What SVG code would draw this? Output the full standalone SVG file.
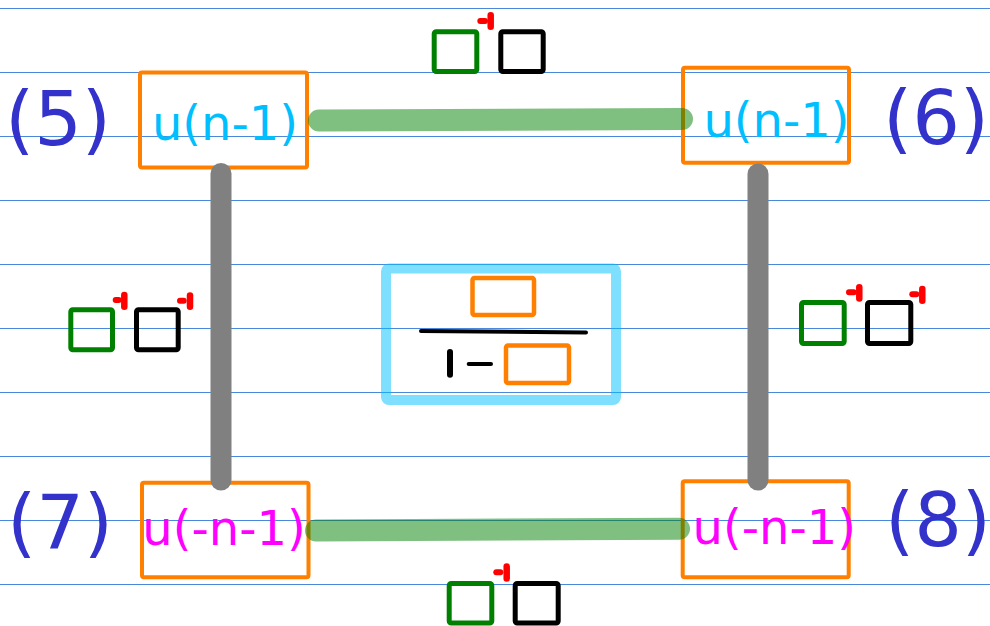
<svg xmlns="http://www.w3.org/2000/svg" width="990" height="626" viewBox="0 0 990 626">
<style>
.rule{stroke:#4a88dc;stroke-width:1.2}
.box{fill:none;stroke:#ff8000;stroke-width:4}
.t{font-family:"DejaVu Sans",sans-serif;font-size:48px;text-anchor:middle}
.cy{fill:#00bfff}
.mg{fill:#ff00ff}
.lbl{font-family:"DejaVu Sans",sans-serif;font-size:75px;text-anchor:middle;fill:#3333cc}
.gq{fill:none;stroke:#008000;stroke-width:5}
.bq{fill:none;stroke:#000;stroke-width:5}
.rd{stroke:#ff0000;stroke-linecap:round;fill:none}
.green{stroke:#008000;stroke-opacity:0.5;stroke-width:22;stroke-linecap:round}
.gray{stroke:#808080;stroke-width:21;stroke-linecap:round}
</style>
<rect width="990" height="626" fill="#fff"/>
<g id="rules">
<line class="rule" x1="0" y1="8.5" x2="990" y2="8.5"/>
<line class="rule" x1="0" y1="72.5" x2="990" y2="72.5"/>
<line class="rule" x1="0" y1="136.5" x2="990" y2="136.5"/>
<line class="rule" x1="0" y1="200.5" x2="990" y2="200.5"/>
<line class="rule" x1="0" y1="264.5" x2="990" y2="264.5"/>
<line class="rule" x1="0" y1="328.5" x2="990" y2="328.5"/>
<line class="rule" x1="0" y1="392.5" x2="990" y2="392.5"/>
<line class="rule" x1="0" y1="456.5" x2="990" y2="456.5"/>
<line class="rule" x1="0" y1="520.5" x2="990" y2="520.5"/>
<line class="rule" x1="0" y1="584.5" x2="990" y2="584.5"/>
</g>
<g id="node5">
<rect class="box" x="140" y="72.5" width="167" height="95" rx="2"/>
<text class="t cy" x="225" y="140">u(n-1)</text>
<text class="lbl" x="58" y="145">(5)</text>
</g>
<g id="node6">
<rect class="box" x="683" y="67.7" width="166" height="95" rx="2"/>
<text class="t cy" x="776.5" y="137">u(n-1)</text>
<text class="lbl" x="936" y="144">(6)</text>
</g>
<g id="node7">
<rect class="box" x="142" y="482.7" width="166.5" height="94.5" rx="2"/>
<text class="t mg" x="224" y="545">u(-n-1)</text>
<text class="lbl" x="60" y="548">(7)</text>
</g>
<g id="node8">
<rect class="box" x="682.7" y="481.3" width="166" height="96" rx="2"/>
<text class="t mg" x="774.3" y="544">u(-n-1)</text>
<text class="lbl" x="938" y="546">(8)</text>
</g>
<g id="formula">
<rect x="386" y="268.5" width="230" height="131.5" rx="3" fill="none" stroke="#00bfff" stroke-opacity="0.5" stroke-width="10"/>
<rect x="472.5" y="278" width="61.5" height="37" rx="2" fill="none" stroke="#ff8000" stroke-width="4.5"/>
<line x1="421" y1="331" x2="586" y2="332.5" stroke="#000" stroke-width="4" stroke-linecap="round"/>
<line x1="450" y1="352" x2="450" y2="374.7" stroke="#000" stroke-width="6" stroke-linecap="round"/>
<line x1="468.7" y1="364" x2="491" y2="364" stroke="#000" stroke-width="4" stroke-linecap="round"/>
<rect x="506" y="345.5" width="63" height="37.5" rx="2" fill="none" stroke="#ff8000" stroke-width="4.5"/>
</g>
<g id="connectors">
<line class="green" x1="319" y1="120.5" x2="682" y2="119"/>
<line class="green" x1="316" y1="530.5" x2="679" y2="528.7"/>
<line class="gray" x1="221" y1="173.5" x2="221" y2="480"/>
<line class="gray" x1="758" y1="174" x2="758" y2="480"/>
</g>
<g id="label-top">
<rect class="gq" x="434.2" y="31.8" width="42.6" height="39.7" rx="2"/>
<rect class="bq" x="500.8" y="31.8" width="42.4" height="39.7" rx="2"/>
<line class="rd" x1="480.3" y1="21" x2="485" y2="21" stroke-width="6"/>
<line class="rd" x1="490.7" y1="15.3" x2="490.7" y2="26.7" stroke-width="6.5"/>
</g>
<g id="label-left">
<rect class="gq" x="70.8" y="309.8" width="41.7" height="40" rx="2"/>
<rect class="bq" x="136.5" y="309.8" width="41.7" height="40" rx="2"/>
<line class="rd" x1="115.7" y1="300" x2="118.7" y2="300" stroke-width="6"/>
<line class="rd" x1="124.3" y1="295" x2="124.3" y2="306.7" stroke-width="6.5"/>
<line class="rd" x1="180" y1="300.7" x2="183.7" y2="300.7" stroke-width="6"/>
<line class="rd" x1="190" y1="295.6" x2="190" y2="306.7" stroke-width="6.5"/>
</g>
<g id="label-right">
<rect class="gq" x="801.5" y="302.5" width="42.7" height="41" rx="2"/>
<rect class="bq" x="867.5" y="302.5" width="43.3" height="41" rx="2"/>
<line class="rd" x1="849" y1="292.3" x2="853.7" y2="292.3" stroke-width="6"/>
<line class="rd" x1="859.3" y1="287.3" x2="859.3" y2="298.4" stroke-width="6.5"/>
<line class="rd" x1="912.3" y1="294.3" x2="916.3" y2="294.3" stroke-width="6"/>
<line class="rd" x1="922.3" y1="289" x2="922.3" y2="300.7" stroke-width="6.5"/>
</g>
<g id="label-bottom">
<rect class="gq" x="449.2" y="583.5" width="42.6" height="39.5" rx="2"/>
<rect class="bq" x="515.2" y="583.5" width="43" height="39.5" rx="2"/>
<line class="rd" x1="496.3" y1="572.3" x2="500.3" y2="572.3" stroke-width="6"/>
<line class="rd" x1="506.7" y1="566.6" x2="506.7" y2="578.4" stroke-width="6.5"/>
</g>
</svg>
